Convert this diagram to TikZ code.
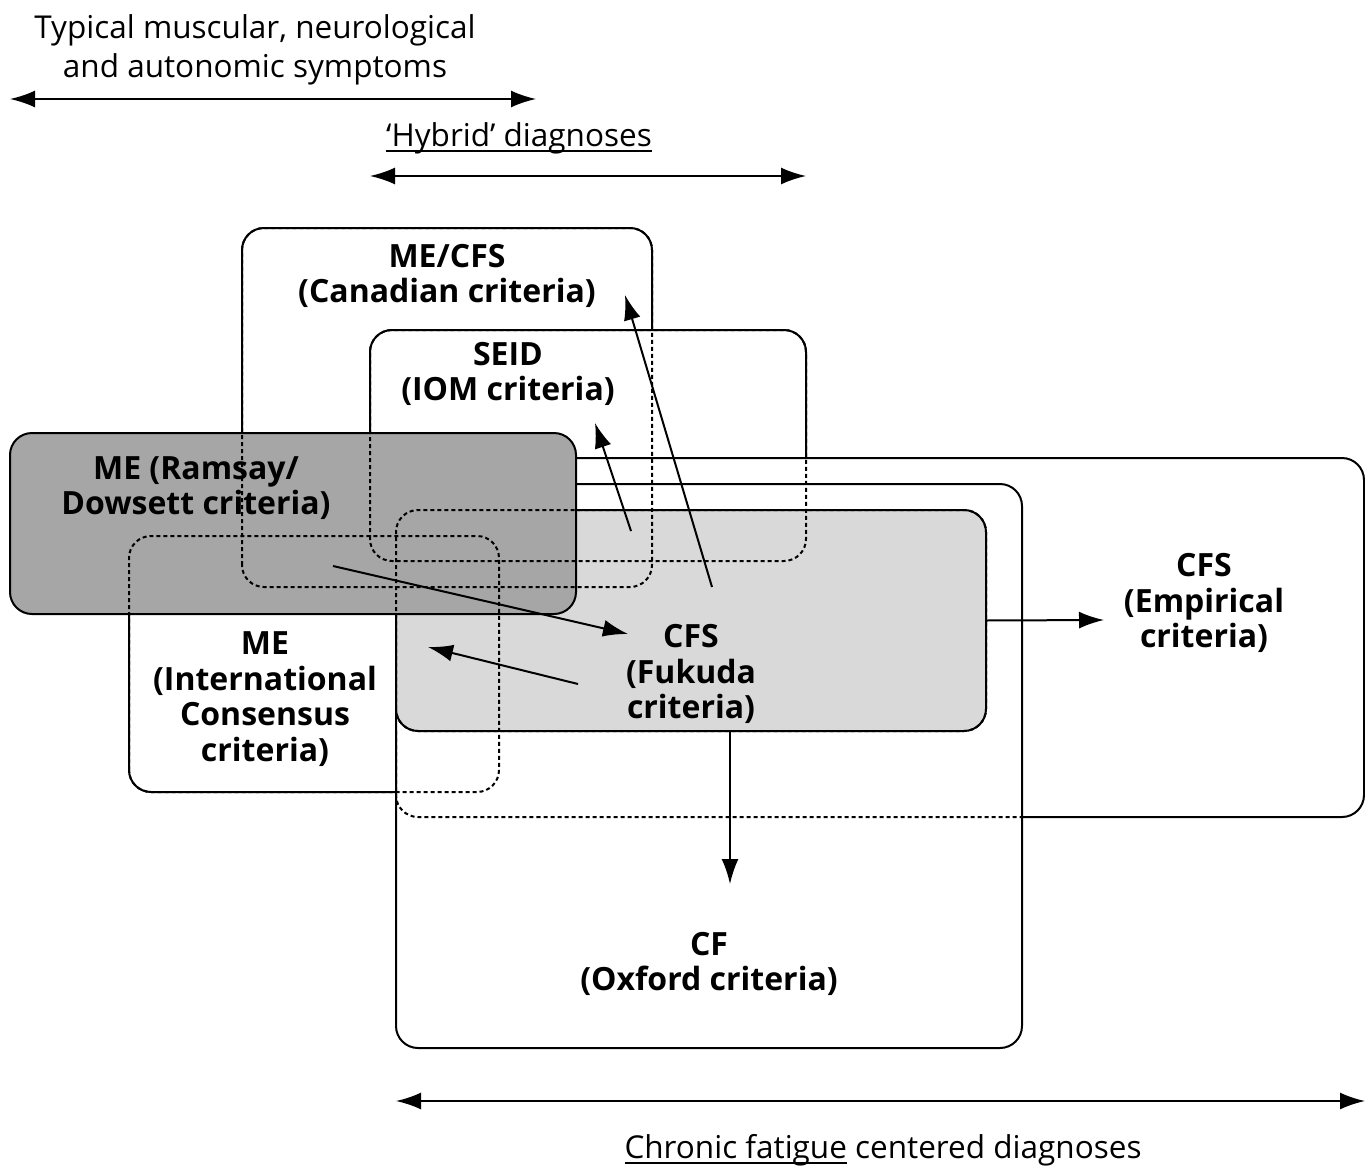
\documentclass[tikz,border=0pt]{standalone}
\usepackage{fontspec}
\setmainfont{Open Sans}
\usetikzlibrary{arrows.meta}
\newcommand\undl[1]{\setbox0\hbox{#1}\rlap{\rule[-6pt]{\wd0}{2pt}}\box0\relax}

\begin{document}
\begin{tikzpicture}[x=1pt,y=-1pt,line width=2pt]
	\tikzstyle{crit}=[draw,fill=white,rectangle,rounded corners=22pt,outer sep=0pt,inner sep=0pt]
	\tikzstyle{hid}=[dash pattern=on 4pt off 3pt,rounded corners=22pt]
	\tikzstyle{lbl}=[align=center,font=\fontsize{32}{35.5}\selectfont\bfseries]
	\tikzstyle{span}=[align=center,font=\fontsize{31.5}{39}\selectfont]
	\tikzstyle{conn}=[-{Latex[length=25pt,width=17pt]}]
	\tikzstyle{both}=[{Latex[length=25pt,width=17pt]}-{Latex[length=25pt,width=17pt]}]

	\useasboundingbox (0,0) rectangle (1365,1167);

	\node[crit,minimum width=410,minimum height=359](can) at (447,407.5){};
	\node[crit,minimum width=436,minimum height=231](seid) at (588,445.5){};
	\node[crit,minimum width=370,minimum height=256](icc) at (314,664){};
	\node[crit,minimum width=968,minimum height=359](emp) at (880,637.5){};
	\node[crit,minimum width=626,minimum height=564](oxf) at (709,766){};
	\node[crit,fill=black!15,minimum width=590,minimum height=221](fuk) at (691,620.5){};
	\node[crit,fill=black!35,minimum width=566,minimum height=181](ram) at (293,523.5){};

	\draw[hid] (can.south west) rectangle (can.north east);
	\draw[hid] (seid.south west) rectangle (seid.north east);
	\draw[hid] (icc.south west) rectangle (icc.north east);
	\draw[hid] (fuk.south west) rectangle (fuk.north east);
	\draw[hid] (emp.west |- fuk.south) -- (emp.south west) -- (emp.south -| oxf.east);

	\node[lbl](canlbl) at (447,276){ME/CFS\\(Canadian criteria)};
	\node[lbl](seidlbl) at (508,374){SEID\\(IOM criteria)};
	\node[lbl](ramlbl) at (196,488){ME (Ramsay/\\Dowsett criteria)};
	\node[lbl](icclbl) at (265,699){ME\\(International\\Consensus\\criteria)};
	\node[lbl](fuklbl) at (691,674){CFS\\(Fukuda\\criteria)};
	\node[lbl](emplbl) at (1204,603){CFS\\(Empirical\\criteria)};
	\node[lbl](oxflbl) at (709,964){CF\\(Oxford criteria)};

	\coordinate (ra) at (333,566);
	\coordinate (fa) at (628,634);
	\coordinate (fb) at (578,684);
	\coordinate (ib) at (428,647);
	\coordinate (fc) at (631,531);
	\coordinate (sc) at (595,423);
	\coordinate (fd) at (712,587);
	\coordinate (cd) at (625,295);
	\coordinate (ee) at (1104,620);
	\coordinate (of) at (730,884);

	\draw[conn] (ra) -- (fa);
	\draw[conn] (fb) -- (ib);
	\draw[conn] (fc) -- (sc);
	\draw[conn] (fd) -- (cd);
	\draw[conn] (fuk.east) -- (ee);
	\draw[conn] (fuk.south -| of) -- (of);

	\node[span](symp) at (255,50){Typical muscular, neurological\\and autonomic symptoms};
	\coordinate (sl) at (10,99);
	\coordinate (sr) at (536,99);
	\draw[both] (sl) -- (sr);

	\node[span,anchor=base](hyb) at (519,146){\undl{‘Hybrid’ diagnoses}};
	\coordinate (hl) at (370,176);
	\coordinate (hr) at (806,176);
	\draw[both] (hl) -- (hr);

	\coordinate (cl) at (396,1101);
	\coordinate (cr) at (1365,1101);
	\draw[both] (cl) -- (cr);
	\node[span,anchor=base](chron) at (883,1158){\undl{Chronic fatigue} centered diagnoses};
\end{tikzpicture}
\end{document}
